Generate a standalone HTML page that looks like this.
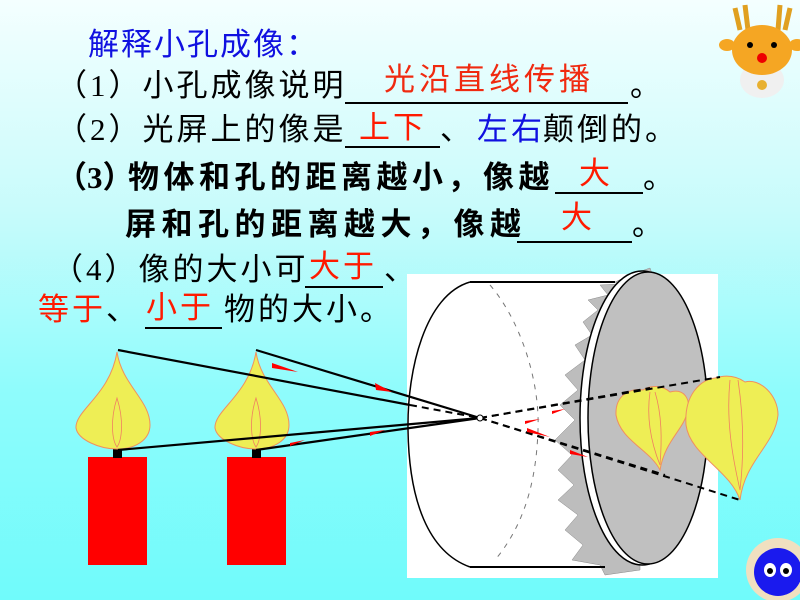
<!DOCTYPE html>
<html><head><meta charset="utf-8"><style>
html,body{margin:0;padding:0}
body{width:800px;height:600px;overflow:hidden;position:relative;background:linear-gradient(180deg,#f4ffff 0%,#c8fbfb 35%,#8ffcfc 65%,#70fbfb 100%);font-family:"Liberation Serif","Noto Sans CJK SC",serif}
.t{position:absolute;white-space:nowrap;font-size:31px;line-height:36px;font-family:"Liberation Serif","Noto Sans CJK SC",sans-serif;color:#000;letter-spacing:3px}
.b{font-weight:bold;letter-spacing:4.5px}
.r{color:#ff1a00}.bl{color:#1010e0}
.u{position:absolute;height:2px;background:#000}
</style></head><body>
<div class="t bl" style="left:88px;top:27px;letter-spacing:2px">解释小孔成像：</div>
<div class="t" style="left:56px;top:68px">（1）小孔成像说明</div>
<div class="t r" style="left:384px;top:62px;letter-spacing:4px;color:#f02a10">光沿直线传播</div>
<div class="t" style="left:630px;top:68px">。</div>
<div class="u" style="left:345px;top:102px;width:283px"></div>

<div class="t" style="left:56px;top:112px">（2）光屏上的像是</div>
<div class="t r" style="left:359px;top:110px">上下</div>
<div class="t" style="left:440px;top:112px">、</div>
<div class="t bl" style="left:477px;top:112px">左右</div>
<div class="t" style="left:543px;top:112px">颠倒的。</div>
<div class="u" style="left:345px;top:146px;width:95px"></div>

<div class="t b" style="left:56px;top:160px;letter-spacing:0">（3）</div>
<div class="t b" style="left:128px;top:160px">物体和孔的距离越小，像越</div>
<div class="t r" style="left:579px;top:156px">大</div>
<div class="t" style="left:643px;top:160px">。</div>
<div class="u" style="left:555px;top:192px;width:88px"></div>

<div class="t b" style="left:125px;top:207px;letter-spacing:5.5px">屏和孔的距离越大，像越</div>
<div class="t r" style="left:561px;top:200px">大</div>
<div class="t" style="left:632px;top:207px">。</div>
<div class="u" style="left:517px;top:241px;width:115px"></div>

<div class="t" style="left:52px;top:252px">（4）像的大小可</div>
<div class="t r" style="left:309px;top:249px">大于</div>
<div class="t" style="left:384px;top:252px">、</div>
<div class="u" style="left:305px;top:286px;width:78px"></div>

<div class="t r" style="left:38px;top:292px">等于</div>
<div class="t" style="left:106px;top:292px">、</div>
<div class="t r" style="left:146px;top:290px">小于</div>
<div class="t" style="left:224px;top:292px">物的大小。</div>
<div class="u" style="left:145px;top:327px;width:77px"></div>

<svg width="800" height="600" style="position:absolute;left:0;top:0">
<rect x="407" y="274" width="311" height="304" fill="#fff"/>
<polygon fill="#bdbdbd" stroke="#888" stroke-width="0.5" points="615,282 630,275 650,268 655,282 600,285 608,295 588,300 598,310 583,322 592,335 575,345 585,360 565,375 578,390 560,405 575,420 555,440 572,455 558,470 574,485 558,500 578,515 565,530 583,545 572,560 600,565 605,575 640,570 640,300"/>
<ellipse cx="642" cy="418" rx="62" ry="147" fill="#fff" stroke="#000" stroke-width="1.5"/>
<ellipse cx="648" cy="418" rx="60" ry="146" fill="#c0c0c0" stroke="#000" stroke-width="1.5"/>
<path d="M470,282 C425,295 407,370 408,430 C409,500 428,552 470,567" fill="none" stroke="#000" stroke-width="1.5"/>
<line x1="470" y1="282" x2="615" y2="282" stroke="#000" stroke-width="2"/>
<line x1="470" y1="567" x2="605" y2="567" stroke="#000" stroke-width="2"/>
<path d="M490,285 C520,320 540,380 538,430 C536,490 520,530 495,560" fill="none" stroke="#777" stroke-width="1" stroke-dasharray="5,6"/>
<rect x="88" y="457" width="59" height="108" fill="#ff0000"/>
<rect x="227" y="457" width="59" height="108" fill="#ff0000"/>
<rect x="113" y="448" width="9" height="10" fill="#000"/>
<rect x="252" y="448" width="9" height="10" fill="#000"/>
<g fill="#eeee55" stroke="#f09060" stroke-width="1">
<path d="M117,352 C122,385 150,400 150,425 C150,440 135,449 117,449 C100,449 78,440 76,428 C75,410 110,395 117,352Z"/>
<path d="M256,352 C261,385 289,400 289,425 C289,440 274,449 256,449 C239,449 217,440 215,428 C214,410 249,395 256,352Z"/>
<path d="M660,470 C650,450 620,440 616,415 C615,395 630,388 643,390 C650,385 662,385 670,392 C685,388 690,400 688,410 C684,430 665,440 660,470Z"/>
<path d="M740,500 C730,470 690,455 686,425 C684,395 700,380 715,378 C725,375 735,375 745,382 C760,378 778,395 778,415 C775,445 745,460 740,500Z"/>
</g>
<g fill="none" stroke="#f08060" stroke-width="0.8">
<path d="M117,398 C110,420 112,440 117,447 C122,440 124,420 117,398Z"/>
<path d="M256,398 C249,420 251,440 256,447 C261,440 263,420 256,398Z"/>
<path d="M650,392 C646,420 652,445 660,465 C662,440 662,415 655,392"/>
<path d="M730,380 C726,420 732,455 740,490 C744,455 744,420 738,380"/>
</g>
<g stroke="#000" stroke-width="2.2">
<line x1="118" y1="350" x2="410" y2="405"/>
<line x1="256" y1="350" x2="480" y2="418"/>
<line x1="118" y1="450" x2="480" y2="418"/>
<line x1="256" y1="450" x2="480" y2="418"/>
</g>
<g stroke="#000" stroke-width="2" stroke-dasharray="7,5">
<line x1="410" y1="405" x2="480" y2="418"/>
<line x1="480" y1="418" x2="740" y2="500"/>
<line x1="480" y1="418" x2="665" y2="475"/>
<line x1="480" y1="418" x2="720" y2="377"/>
<line x1="480" y1="418" x2="650" y2="388"/>
</g>
<circle cx="480" cy="418" r="3" fill="#fff" stroke="#000"/>
<g fill="#ff0000">
<polygon points="272,363 298,372 272,368"/>
<polygon points="375,383 392,392 376,390"/>
<polygon points="290,443 305,440 290,446"/>
<polygon points="370,432 385,430 370,436"/>
<polygon points="527,428 550,437 527,432"/>
<polygon points="570,450 588,457 570,454"/>
<polygon points="552,411 565,409 552,414"/>
<polygon points="525,421 540,419 525,424"/>
</g>
<g>
<path d="M735,8 L740,30 M745,5 L748,30 M790,8 L785,30 M780,5 L778,30" stroke="#e0a020" stroke-width="5" fill="none"/>
<ellipse cx="762" cy="80" rx="22" ry="18" fill="#f0f0f0"/>
<ellipse cx="762" cy="50" rx="30" ry="25" fill="#f5a623"/>
<ellipse cx="727" cy="45" rx="8" ry="6" fill="#f5a623"/>
<ellipse cx="797" cy="45" rx="8" ry="6" fill="#f5a623"/>
<circle cx="750" cy="45" r="3" fill="#000"/><circle cx="774" cy="45" r="3" fill="#000"/>
<circle cx="762" cy="58" r="5" fill="#e00"/>
<circle cx="762" cy="85" r="5" fill="#e8b030"/>
</g>
<circle cx="778" cy="570" r="32" fill="#f0e0c0"/>
<circle cx="778" cy="572" r="24" fill="#1a1aee"/>
<ellipse cx="770" cy="570" rx="6" ry="7" fill="#fff"/><ellipse cx="786" cy="570" rx="6" ry="7" fill="#fff"/>
<circle cx="770" cy="571" r="3" fill="#000"/><circle cx="786" cy="571" r="3" fill="#000"/>
</svg>
</body></html>
